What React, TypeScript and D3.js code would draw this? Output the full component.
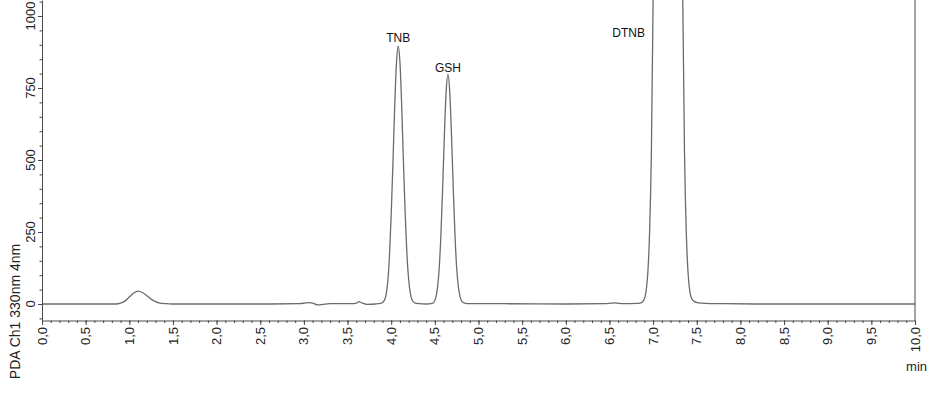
import React, { useEffect, useRef } from 'react'
import * as d3 from 'd3'

// retention time (min) and detector signal (mAU)
const times = [
  0.0, 0.5, 0.85, 0.9, 0.95, 1.0, 1.05, 1.1, 1.15, 1.2, 1.25, 1.3, 1.35, 1.42, 1.5,
  2.0, 2.6, 2.95, 3.02, 3.07, 3.11, 3.16, 3.22, 3.3, 3.45, 3.55, 3.6, 3.63, 3.67, 3.72, 3.82,
  3.88, 3.92, 3.94, 3.96, 3.98, 4.0, 4.02, 4.04, 4.06, 4.08, 4.1, 4.12, 4.14, 4.16, 4.18, 4.2,
  4.22, 4.24, 4.27, 4.32, 4.4, 4.47, 4.49, 4.51, 4.53, 4.55, 4.57, 4.59, 4.61, 4.63, 4.65,
  4.67, 4.69, 4.71, 4.73, 4.75, 4.77, 4.79, 4.81, 4.84, 4.9, 5.3, 6.0, 6.45, 6.52, 6.56,
  6.61, 6.68, 6.8, 6.85, 6.88, 6.9, 6.92, 6.94, 6.96, 6.98, 7.0, 7.03, 7.08, 7.17, 7.26,
  7.31, 7.34, 7.36, 7.38, 7.4, 7.42, 7.44, 7.47, 7.52, 7.6, 7.8, 8.2, 9.0, 10.0
]
const signal = [
  0, 0, 0, 3, 10, 24, 38, 45, 40, 29, 17, 8, 3, 1, 0,
  0, 0, 1, 4, 5, 2, -3, -1, 1, 1, 1, 3, 8, 3, -1, 0,
  2, 12, 30, 75, 165, 310, 490, 685, 835, 895, 840, 690, 495, 315, 175, 85,
  36, 14, 4, 1, 0, 2, 7, 21, 56, 125, 244, 410, 593, 740, 797,
  740, 593, 410, 244, 125, 58, 24, 9, 3, 1, 1, 0, 1, 3, 4,
  2, 1, 2, 3, 8, 18, 45, 110, 250, 520, 1050, 2400, 6000, 9000, 6000,
  2400, 1050, 520, 250, 110, 45, 20, 9, 4, 2, 1, 0, 0, 0
]

const peakNames = ['TNB', 'GSH', 'DTNB']
const peakLabelTimes = [4.08, 4.65, 6.72]
const peakLabelLevels = [910, 805, 927]

const xMajorTicks = [0, 0.5, 1, 1.5, 2, 2.5, 3, 3.5, 4, 4.5, 5, 5.5, 6, 6.5, 7, 7.5, 8, 8.5, 9, 9.5, 10]
const yMajorTicks = [0, 250, 500, 750, 1000]
const yTitle = 'PDA Ch1 330nm 4nm'
const xUnit = 'min'

const W = 928
const H = 396

function Chromatogram() {
  const ref = useRef<SVGSVGElement>(null)

  useEffect(() => {
    const left = 42
    const right = 915
    const top = 0
    const bottom = 320.5
    const axisColor = '#4a4a4a'
    const font = 'Arial, "Liberation Sans", sans-serif'

    const svg = d3.select(ref.current)
    svg.selectAll('*').remove()

    const x = d3.scaleLinear().domain([0, 10]).range([left, right])
    const y = d3.scaleLinear().domain([0, 1000]).range([304, 16])

    const data = times.map((t, i) => ({ t, v: signal[i] }))

    svg.append('clipPath').attr('id', 'plot-clip')
      .append('rect')
      .attr('x', left).attr('y', top)
      .attr('width', right - left).attr('height', bottom - top)

    // trace
    const line = d3.line<{ t: number, v: number }>()
      .x(d => x(d.t))
      .y(d => y(d.v))
      .curve(d3.curveMonotoneX)

    svg.append('path')
      .datum(data)
      .attr('clip-path', 'url(#plot-clip)')
      .attr('fill', 'none')
      .attr('stroke', '#6b6b6b')
      .attr('stroke-width', 1.3)
      .attr('d', line)

    // x axis, minor every 0.1
    const xMinor = d3.range(0, 101).map(i => i / 10)
    const xAxisMinor = d3.axisBottom(x).tickValues(xMinor).tickSize(2.5).tickSizeOuter(0).tickFormat(() => '')
    const xAxisMajor = d3.axisBottom(x).tickValues(xMajorTicks).tickSize(4.5).tickSizeOuter(0).tickFormat(() => '')

    const gxm = svg.append('g').attr('transform', `translate(0,${bottom})`).call(xAxisMinor)
    const gx = svg.append('g').attr('transform', `translate(0,${bottom})`).call(xAxisMajor)
    gx.select('.domain').remove()
    for (const g of [gxm, gx]) {
      g.selectAll('line').attr('stroke', axisColor)
      g.selectAll('.domain').attr('stroke', axisColor)
    }

    svg.append('g')
      .selectAll('text')
      .data(xMajorTicks)
      .join('text')
      .attr('transform', d => `translate(${x(d)},327) rotate(-90)`)
      .attr('text-anchor', 'end')
      .attr('dy', '0.35em')
      .attr('font-family', font)
      .attr('font-size', 13)
      .attr('fill', '#222')
      .text(d => d3.format('.1f')(d).replace('.', ','))

    // y axis, minor every 50
    const yMinor = d3.range(-50, 1051, 50)
    const yScaleFull = y.copy().domain([-57.3, 1055.6]).range([bottom, top])
    const yAxisMinor = d3.axisLeft(yScaleFull).tickValues(yMinor).tickSize(2.5).tickSizeOuter(0).tickFormat(() => '')
    const yAxisMajor = d3.axisLeft(yScaleFull).tickValues(yMajorTicks).tickSize(4).tickSizeOuter(0).tickFormat(() => '')

    const gym = svg.append('g').attr('transform', `translate(${left},0)`).call(yAxisMinor)
    const gy = svg.append('g').attr('transform', `translate(${left},0)`).call(yAxisMajor)
    gy.select('.domain').remove()
    for (const g of [gym, gy]) {
      g.selectAll('line').attr('stroke', axisColor)
      g.selectAll('.domain').attr('stroke', axisColor)
    }

    svg.append('g')
      .selectAll('text')
      .data(yMajorTicks)
      .join('text')
      .attr('transform', d => `translate(34.5,${y(d)}) rotate(-90)`)
      .attr('text-anchor', 'middle')
      .attr('font-family', font)
      .attr('font-size', 13)
      .attr('fill', '#222')
      .text(d => d)

    // right border
    svg.append('line')
      .attr('x1', right).attr('x2', right)
      .attr('y1', top).attr('y2', bottom)
      .attr('stroke', axisColor)

    // peak labels
    svg.append('g')
      .selectAll('text')
      .data(peakNames)
      .join('text')
      .attr('x', (d, i) => x(peakLabelTimes[i]))
      .attr('y', (d, i) => y(peakLabelLevels[i]))
      .attr('text-anchor', 'middle')
      .attr('font-family', font)
      .attr('font-size', 12)
      .attr('fill', '#111')
      .text(d => d)

    // axis titles
    svg.append('text')
      .attr('transform', `translate(20,311.5) rotate(-90)`)
      .attr('text-anchor', 'middle')
      .attr('font-family', font)
      .attr('font-size', 14)
      .attr('fill', '#222')
      .text(yTitle)

    svg.append('text')
      .attr('x', 927)
      .attr('y', 371)
      .attr('text-anchor', 'end')
      .attr('font-family', font)
      .attr('font-size', 13)
      .attr('fill', '#222')
      .text(xUnit)
  }, [])

  return (
    <svg ref={ref} width={W} height={H}
      style={{ position: 'absolute', left: 0, top: 0, background: '#fff' }} />
  )
}

export default function App() {
  return <Chromatogram />
}
